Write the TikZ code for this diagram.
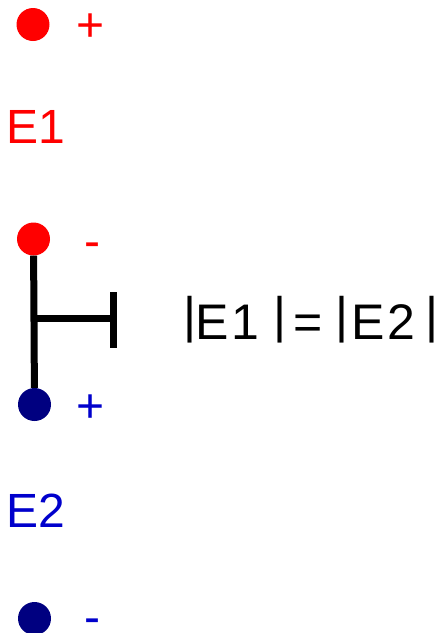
\documentclass[tikz,border=0pt]{standalone}
\usepackage{fontspec}
\setmainfont{Liberation Sans}
\definecolor{dotred}{RGB}{255,0,0}
\definecolor{dotblue}{RGB}{0,0,128}
\definecolor{txtblue}{RGB}{0,0,204}
\begin{document}
\begin{tikzpicture}[x=1pt,y=-1pt,
  dot/.style={circle,fill=#1,draw=none,minimum size=33pt,inner sep=0pt},
  lbl/.style={inner sep=0pt,font=\fontsize{48}{58}\selectfont},
  eq/.style={inner sep=0pt,font=\fontsize{50}{60}\selectfont},
  bar/.style={line width=7pt,line cap=butt,black}]
\useasboundingbox (0,0) rectangle (439,633);
% dots
\node[dot=dotred]  (r1) at (33,24.5) {};
\node[dot=dotred]  (r2) at (33.5,239) {};
\node[dot=dotblue] (b1) at (34.5,404.5) {};
\node[dot=dotblue] (b2) at (34.5,618.5) {};
% signs
\node[lbl,text=dotred,anchor=base] (p1) at (91,41.5) {+};
\node[lbl,text=dotred,anchor=base] (m1) at (92,257) {-};
\node[lbl,text=txtblue,anchor=base] (p2) at (90.5,422) {+};
\node[lbl,text=txtblue,anchor=base] (m2) at (92.5,633) {-};
% labels
\node[lbl,text=dotred,anchor=base west] (e1) at (6,143) {E1};
\node[lbl,text=txtblue,anchor=base west] (e2) at (6,527.5) {E2};
% connector
\coordinate (j) at (33.5,318.5);
\coordinate (t) at (113.5,318.5);
\coordinate (t1) at (113.5,292);
\coordinate (t2) at (113.5,348);
\draw[bar] (r2) -- (b1);
\draw[bar] (j) -- (t);
\draw[bar] (t1) -- (t2);
% equation
\node[eq,anchor=base] (v1) at (189.5,332) {|};
\node[eq,anchor=base west] (q1) at (195,339) {E\kern3pt 1};
\node[eq,anchor=base] (v2) at (279.5,332) {|};
\node[eq,anchor=base] (eqs) at (308,339) {=};
\node[eq,anchor=base] (v3) at (342,332) {|};
\node[eq,anchor=base west] (q2) at (351,339) {E\kern3pt 2};
\node[eq,anchor=base] (v4) at (432,332) {|};
\end{tikzpicture}
\end{document}
